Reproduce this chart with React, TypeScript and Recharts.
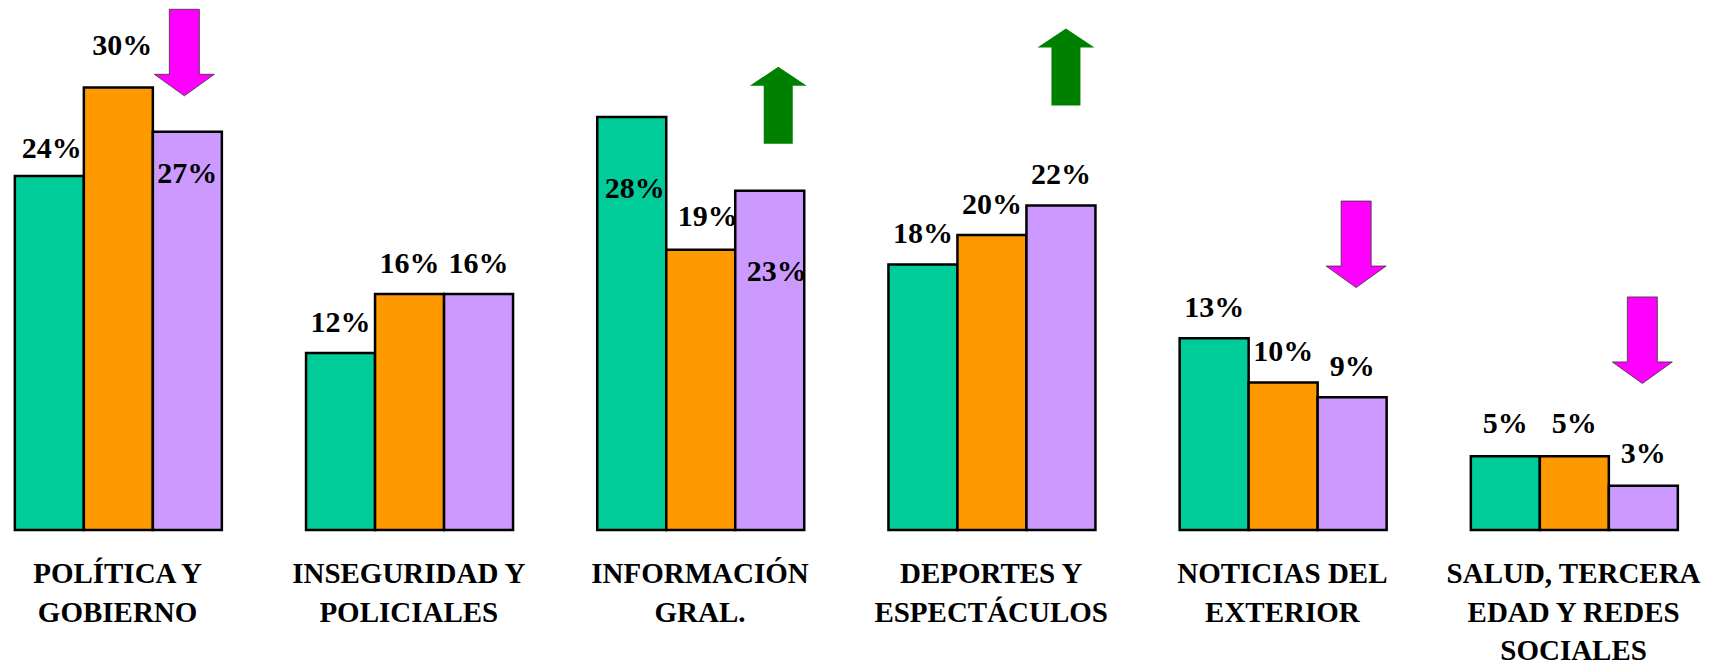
import { BarChart, Bar, XAxis, YAxis, LabelList } from "recharts";

// categorías (saltos de línea como en la lámina)
const CATEGORIES = [
  "POLÍTICA Y\nGOBIERNO",
  "INSEGURIDAD Y\nPOLICIALES",
  "INFORMACIÓN\nGRAL.",
  "DEPORTES Y\nESPECTÁCULOS",
  "NOTICIAS DEL\nEXTERIOR",
  "SALUD, TERCERA\nEDAD Y REDES\nSOCIALES",
];

const MEDICION_1 = [24, 12, 28, 18, 13, 5];
const MEDICION_2 = [30, 16, 19, 20, 10, 5];
const MEDICION_3 = [27, 16, 23, 22, 9, 3];

// tendencia de la última medición (flechas)
const TREND = ["down", null, "up", "up", "down", "down"];
const ARROW_TOP = [35.3, 0, 31.4, 34.0, 22.3, 15.8];

// ajustes manuales de las etiquetas (px respecto del borde superior de la barra)
const LABEL_DY_1 = [-18, -21, 81, -21, -21, -23];
const LABEL_DY_2 = [-32.5, -20.7, -24, -21, -21.3, -23];
const LABEL_DY_3 = [51.6, -20.7, 90, -21, -21.6, -23];
const LABEL_DX_1 = [2.5, 0, 3, 0, 0, 0];
const LABEL_DX_2 = [4, 0, 7, 0, 0, 0];
const LABEL_DX_3 = [0, 0, 7, 0, 0, 0];
const ARROW_DX = [-3, 0, 8.5, 5, 4, -1];

const data = CATEGORIES.map((name, i) => ({
  name,
  m1: MEDICION_1[i],
  m2: MEDICION_2[i],
  m3: MEDICION_3[i],
}));

const FONT = "'Liberation Serif', 'Times New Roman', serif";

function getBox(props: any) {
  const vb = props.viewBox || props;
  return { x: vb.x, y: vb.y, width: vb.width, height: vb.height };
}

function getIndex(props: any) {
  if (typeof props.index === "number") return props.index;
  const name = props.payload?.name;
  return Math.max(0, CATEGORIES.indexOf(name));
}

function makeLabel(dys: number[], dxs: number[]) {
  return (props: any) => {
    const { x, y, width } = getBox(props);
    const i = getIndex(props);
    return (
      <text
        x={x + width / 2 + dxs[i]}
        y={y + dys[i]}
        textAnchor="middle"
        fontFamily={FONT}
        fontWeight="bold"
        fontSize={30}
        fill="#000"
      >
        {props.value}%
      </text>
    );
  };
}

function ArrowMark(props: any) {
  const i = getIndex(props);
  const dir = TREND[i];
  if (!dir) return null;
  const { x, y, width, height } = getBox(props);
  const base = y + height;
  const ppu = height / MEDICION_3[i];
  const cx = x + width / 2 + ARROW_DX[i];
  const t = base - ARROW_TOP[i] * ppu;
  if (dir === "down") {
    const pts = [
      [cx - 15, t], [cx + 15, t], [cx + 15, t + 65], [cx + 30, t + 65],
      [cx, t + 86.5], [cx - 30, t + 65], [cx - 15, t + 65],
    ];
    return (
      <polygon
        points={pts.map((p) => p.join(",")).join(" ")}
        fill="#FF00FF"
        stroke="#333"
        strokeWidth={0.8}
      />
    );
  }
  const pts = [
    [cx, t], [cx + 28.5, t + 19], [cx + 14.5, t + 19], [cx + 14.5, t + 77],
    [cx - 14.5, t + 77], [cx - 14.5, t + 19], [cx - 28.5, t + 19],
  ];
  return <polygon points={pts.map((p) => p.join(",")).join(" ")} fill="#008000" />;
}

function CategoryTick({ x, y, payload }: any) {
  const lines = String(payload.value).split("\n");
  return (
    <text
      x={x}
      y={y}
      textAnchor="middle"
      fontFamily={FONT}
      fontWeight="bold"
      fontSize={29}
      fill="#000"
    >
      {lines.map((line, i) => (
        <tspan key={i} x={x} dy={i === 0 ? 53.3 : 38.4}>
          {line}
        </tspan>
      ))}
    </text>
  );
}

export default function App() {
  return (
    <div
      style={{
        position: "absolute",
        left: -27.6,
        top: 0,
        width: 1738.6,
        height: 661,
        overflow: "hidden",
        background: "#fff",
      }}
    >
      <BarChart
        width={1747.2}
        height={661}
        data={data}
        margin={{ top: 13.75, right: 0, bottom: 0, left: 0 }}
        barGap={0}
        barCategoryGap={42.85}
      >
        <XAxis
          dataKey="name"
          height={131}
          axisLine={false}
          tickLine={false}
          tickSize={0}
          tickMargin={0}
          interval={0}
          tick={<CategoryTick />}
        />
        <YAxis hide domain={[0, 35]} />
        <Bar dataKey="m1" name="Medición 1" fill="#00CC99" stroke="#000" strokeWidth={2.5} isAnimationActive={false}>
          <LabelList dataKey="m1" content={makeLabel(LABEL_DY_1, LABEL_DX_1)} />
        </Bar>
        <Bar dataKey="m2" name="Medición 2" fill="#FF9900" stroke="#000" strokeWidth={2.5} isAnimationActive={false}>
          <LabelList dataKey="m2" content={makeLabel(LABEL_DY_2, LABEL_DX_2)} />
        </Bar>
        <Bar dataKey="m3" name="Medición 3" fill="#CC99FF" stroke="#000" strokeWidth={2.5} isAnimationActive={false}>
          <LabelList dataKey="m3" content={makeLabel(LABEL_DY_3, LABEL_DX_3)} />
          <LabelList dataKey="m3" content={ArrowMark} />
        </Bar>
      </BarChart>
    </div>
  );
}
